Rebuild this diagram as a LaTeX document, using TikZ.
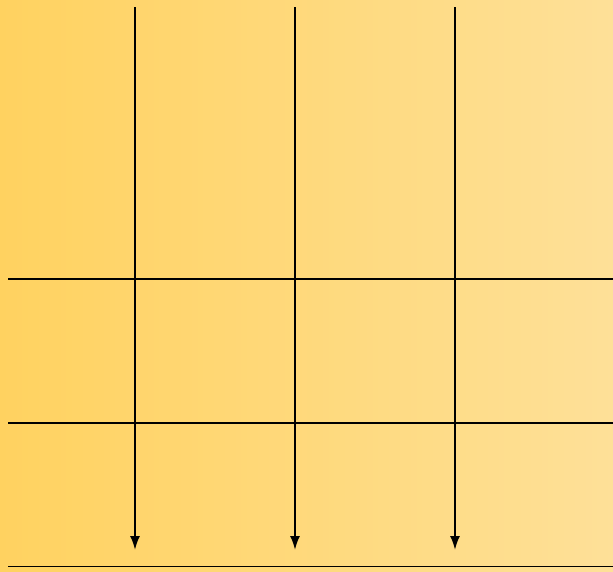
\documentclass[tikz,border=0pt]{standalone}
\usetikzlibrary{arrows.meta}

\definecolor{bgleft}{RGB}{255,210,96}
\definecolor{bgright}{RGB}{254,224,152}

\begin{document}
\begin{tikzpicture}[
            flow/.style={line width=1.1pt, -{Latex[length=2.8mm, width=2mm]}},
            rule/.style={line width=1.1pt}
        ]
            % Background
            \shade[left color=bgleft, right color=bgright] (0,0) rectangle (12.26,-11.42);
            \useasboundingbox (0,0) rectangle (12.26,-11.42);

            % Coordinates
            \coordinate (a-top) at (2.70,-0.14);
            \coordinate (b-top) at (5.90,-0.14);
            \coordinate (c-top) at (9.10,-0.14);
            \coordinate (a-end) at (2.70,-11.00);
            \coordinate (b-end) at (5.90,-11.00);
            \coordinate (c-end) at (9.10,-11.00);

            \coordinate (r1-left) at (0.16,-5.58);
            \coordinate (r1-right) at (12.26,-5.58);
            \coordinate (r2-left) at (0.16,-8.46);
            \coordinate (r2-right) at (12.26,-8.46);
            \coordinate (r3-left) at (0.16,-11.33);
            \coordinate (r3-right) at (12.26,-11.33);

            % Horizontal lines
            \draw[rule] (r1-left) -- (r1-right);
            \draw[rule] (r2-left) -- (r2-right);
            \draw[rule] (r3-left) -- (r3-right);

            % Arrows
            \draw[flow] (a-top) -- (a-end);
            \draw[flow] (b-top) -- (b-end);
            \draw[flow] (c-top) -- (c-end);
        \end{tikzpicture}
\end{document}
